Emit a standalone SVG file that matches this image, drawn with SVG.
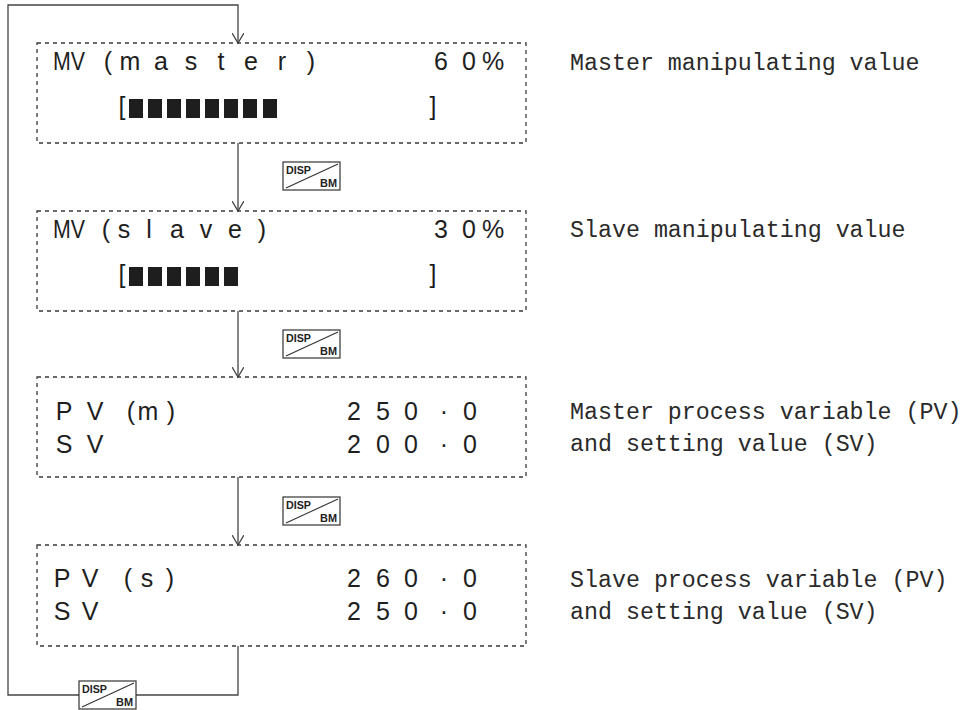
<svg xmlns="http://www.w3.org/2000/svg" width="970" height="710" viewBox="0 0 970 710">
  <defs>
    <style>
      .frame { fill: none; stroke: #3a3a3a; stroke-width: 1.3; stroke-dasharray: 4 4; }
      .lcd { font-family: "Liberation Sans", Arial, sans-serif; font-size: 25px; fill: #1e1e1e; text-anchor: middle; }
      .lcd-l { font-family: "Liberation Sans", Arial, sans-serif; font-size: 25px; fill: #1e1e1e; }
      .bar { fill: #1e1e1e; }
      .note { font-family: "Liberation Mono", "DejaVu Sans Mono", monospace; font-size: 23.3px; fill: #2a2a2a; }
      .wire { fill: none; stroke: #444; stroke-width: 1.3; }
      .key rect { fill: #fff; stroke: #333; stroke-width: 1.2; }
      .key line { stroke: #333; stroke-width: 1.1; }
      .key text { font-family: "Liberation Sans", Arial, sans-serif; font-weight: bold; font-size: 11px; fill: #222; }
    </style>
    <marker id="arrow" viewBox="0 0 11 12" refX="10" refY="6" markerWidth="11" markerHeight="12" markerUnits="userSpaceOnUse" orient="auto">
      <path d="M0,0 L10,6 L0,12" fill="none" stroke="#444" stroke-width="1.3"/>
    </marker>
    <!-- DISP/BM front-panel key -->
    <g id="dispbm" class="key">
      <rect x="0" y="0" width="57" height="28"/>
      <line x1="3" y1="26" x2="55" y2="2"/>
      <text x="3" y="12" textLength="25" lengthAdjust="spacingAndGlyphs">DISP</text>
      <text x="54" y="25" text-anchor="end" textLength="17" lengthAdjust="spacingAndGlyphs">BM</text>
    </g>
  </defs>

  <rect width="970" height="710" fill="#fff"/>

  <!-- connectors -->
  <g id="connectors">
    <path class="wire" d="M238,143 V211" marker-end="url(#arrow)"/>
    <path class="wire" d="M238,311 V377" marker-end="url(#arrow)"/>
    <path class="wire" d="M238,477 V545" marker-end="url(#arrow)"/>
    <path class="wire" d="M238,646 V695 H8 V5 H238 V43" marker-end="url(#arrow)"/>
    <use href="#dispbm" x="283" y="162"/>
    <use href="#dispbm" x="283" y="330"/>
    <use href="#dispbm" x="283" y="497"/>
    <use href="#dispbm" x="79" y="681"/>
  </g>

  <!-- screen 1: master MV -->
  <g id="screen-mv-master">
    <rect class="frame" x="37" y="43" width="489" height="100"/>
    <text class="lcd-l" x="53" y="70" textLength="32" lengthAdjust="spacingAndGlyphs">MV</text>
    <text class="lcd" x="108 130 161 191 221 251 282 311" y="70">(master)</text>
    <text class="lcd" x="441 469 493" y="70">60%</text>
    <text class="lcd" x="122" y="115">[</text>
    <g class="bar">
      <rect x="129" y="99" width="14" height="19"/>
      <rect x="148" y="99" width="14" height="19"/>
      <rect x="167" y="99" width="14" height="19"/>
      <rect x="186" y="99" width="14" height="19"/>
      <rect x="205" y="99" width="14" height="19"/>
      <rect x="224" y="99" width="14" height="19"/>
      <rect x="243" y="99" width="14" height="19"/>
      <rect x="263" y="99" width="14" height="19"/>
    </g>
    <text class="lcd" x="433" y="115">]</text>
    <text class="note" x="570" y="70">Master manipulating value</text>
  </g>

  <!-- screen 2: slave MV -->
  <g id="screen-mv-slave">
    <rect class="frame" x="37" y="211" width="489" height="100"/>
    <text class="lcd-l" x="53" y="238" textLength="32" lengthAdjust="spacingAndGlyphs">MV</text>
    <text class="lcd" x="106 124 149 177 206 235 262" y="238">(slave)</text>
    <text class="lcd" x="441 469 493" y="238">30%</text>
    <text class="lcd" x="122" y="283">[</text>
    <g class="bar">
      <rect x="129" y="267" width="14" height="19"/>
      <rect x="148" y="267" width="14" height="19"/>
      <rect x="167" y="267" width="14" height="19"/>
      <rect x="186" y="267" width="14" height="19"/>
      <rect x="205" y="267" width="14" height="19"/>
      <rect x="224" y="267" width="14" height="19"/>
    </g>
    <text class="lcd" x="433" y="283">]</text>
    <text class="note" x="570" y="237">Slave manipulating value</text>
  </g>

  <!-- screen 3: master PV / SV -->
  <g id="screen-pv-master">
    <rect class="frame" x="37" y="377" width="489" height="100"/>
    <text class="lcd" x="64 95 131 148 171" y="420">PV(m)</text>
    <text class="lcd" x="64 95" y="453">SV</text>
    <text class="lcd" x="354 383 411 444 470" y="420">250·0</text>
    <text class="lcd" x="354 383 411 444 470" y="453">200·0</text>
    <text class="note" x="570" y="419">Master process variable (PV)</text>
    <text class="note" x="570" y="451">and setting value (SV)</text>
  </g>

  <!-- screen 4: slave PV / SV -->
  <g id="screen-pv-slave">
    <rect class="frame" x="37" y="545" width="489" height="101"/>
    <text class="lcd" x="62 90 128 147 170" y="587">PV(s)</text>
    <text class="lcd" x="62 90" y="620">SV</text>
    <text class="lcd" x="354 383 411 444 470" y="587">260·0</text>
    <text class="lcd" x="354 383 411 444 470" y="620">250·0</text>
    <text class="note" x="570" y="587">Slave process variable (PV)</text>
    <text class="note" x="570" y="619">and setting value (SV)</text>
  </g>
</svg>
